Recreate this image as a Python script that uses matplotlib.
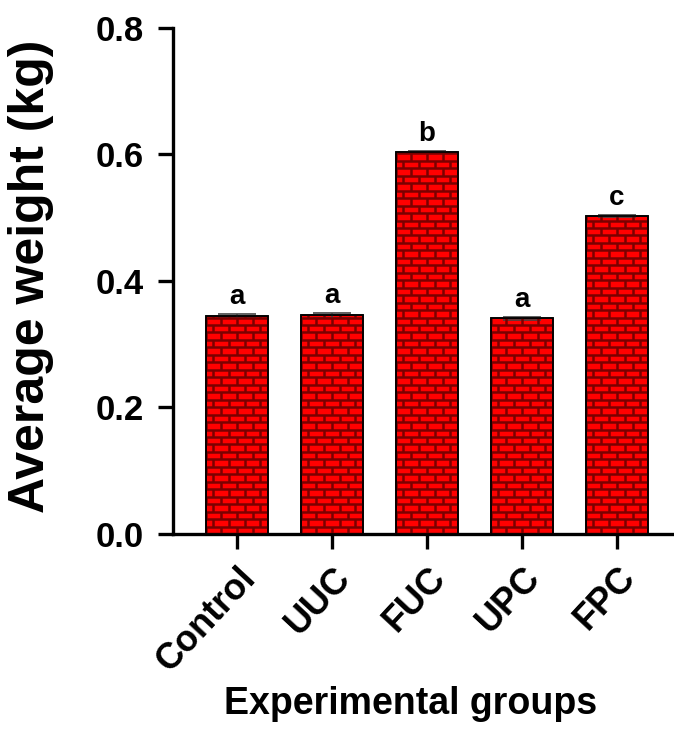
import numpy as np
import matplotlib.pyplot as plt
from matplotlib.collections import LineCollection

plt.rcParams['font.family'] = ['Liberation Sans', 'DejaVu Sans']
plt.rcParams['font.weight'] = 'bold'

groups = ['Control', 'UUC', 'FUC', 'UPC', 'FPC']
weight = [0.345, 0.346, 0.604, 0.341, 0.503]
err = [0.003, 0.004, 0.002, 0.002, 0.002]
letters = ['a', 'a', 'b', 'a', 'c']

fig = plt.figure(figsize=(6.74, 7.33), dpi=100)
ax = fig.add_axes([0.257, 0.2715, 0.74, 0.6903])

x = np.arange(len(groups))
bw = 0.66
bars = ax.bar(x, weight, bw, color='#ff0000', edgecolor='black', linewidth=1.2,
              yerr=err, error_kw=dict(ecolor='#444444', elinewidth=1.2, capsize=14, capthick=1.2),
              zorder=2)

# brick pattern drawn inside each bar
row_h = 0.0118
brick_w = bw / 4
for b in bars:
    x0 = b.get_x()
    x1 = x0 + b.get_width()
    h = b.get_height()
    segs = []
    ys = np.arange(0, h, row_h)
    for y in ys:
        segs.append([(x0, y), (x1, y)])
    for i, y in enumerate(ys):
        off = 0 if i % 2 == 0 else brick_w / 2
        xv = x0 + off
        while xv < x1:
            segs.append([(xv, y), (xv, min(y + row_h, h))])
            xv += brick_w
    lc = LineCollection(segs, colors='#7a0000', linewidths=1.8, zorder=3)
    lc.set_clip_path(b)
    ax.add_collection(lc)
    ax.add_patch(plt.Rectangle((x0, 0), b.get_width(), h, fill=False,
                               edgecolor='black', linewidth=1.2, zorder=4))

for xi, v, e, t in zip(x, weight, err, letters):
    ax.text(xi, v + e + 0.006, t, ha='center', va='bottom', fontsize=20, fontweight='bold')

ax.set_ylim(0, 0.8)
ax.set_xlim(-0.67, 4.58)
ax.set_yticks([0.0, 0.2, 0.4, 0.6, 0.8])
ax.set_yticklabels(['0.0', '0.2', '0.4', '0.6', '0.8'])
ax.set_xticks(x)
ax.set_xticklabels(groups, rotation=47, ha='right', rotation_mode='anchor')

ax.spines['top'].set_visible(False)
ax.spines['right'].set_visible(False)
ax.spines['left'].set_linewidth(2.4)
ax.spines['bottom'].set_linewidth(2.4)
ax.tick_params(axis='y', direction='out', length=11, width=2.4, labelsize=25, pad=10)
ax.tick_params(axis='x', direction='out', length=11, width=2.4, labelsize=26, pad=8)

ax.set_ylabel('Average weight (kg)', fontsize=36, fontweight='bold')
ax.yaxis.set_label_coords(-0.285, 0.51)
ax.yaxis.label.set_va('center')
ax.set_xlabel('Experimental groups', fontsize=27, fontweight='bold')
ax.xaxis.set_label_coords(0.475, -0.30)

fig.savefig('out.png', dpi=100)
